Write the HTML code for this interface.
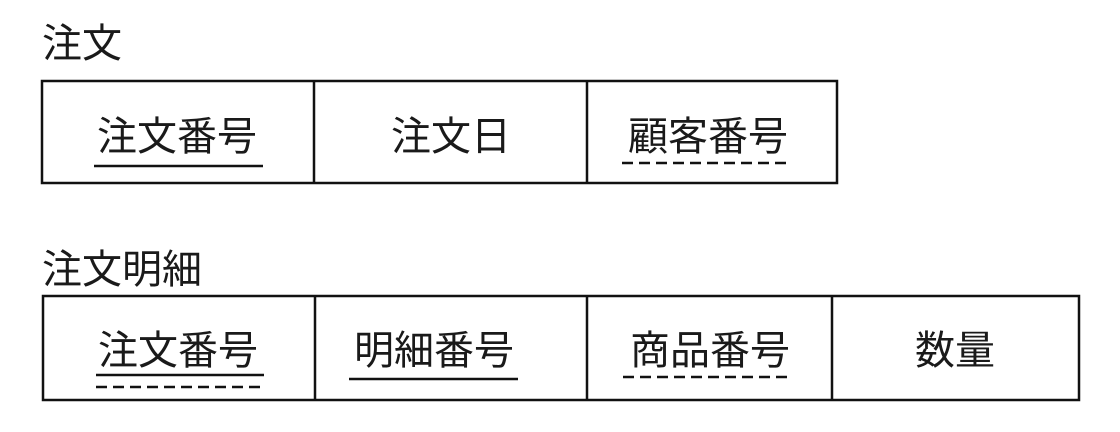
<!DOCTYPE html>
<html><head><meta charset="utf-8"><style>
html,body{margin:0;padding:0;background:#fff;width:1120px;height:432px;overflow:hidden}
svg text{font-family:"Liberation Sans","Noto Sans CJK JP",sans-serif;font-size:40px;fill:#1a1a1a;font-weight:400}
</style></head><body>
<svg width="1120" height="432" viewBox="0 0 1120 432" xmlns="http://www.w3.org/2000/svg">
<g stroke="#111" stroke-width="2.5" fill="none">
<rect x="42" y="81" width="795" height="102"/>
<line x1="314" y1="81" x2="314" y2="183"/>
<line x1="587" y1="81" x2="587" y2="183"/>
<rect x="43" y="296" width="1036" height="104"/>
<line x1="315" y1="296" x2="315" y2="400"/>
<line x1="587" y1="296" x2="587" y2="400"/>
<line x1="832" y1="296" x2="832" y2="400"/>
</g>
<text x="42" y="57">注文</text>
<text x="42" y="283">注文明細</text>
<text x="177" y="150" text-anchor="middle">注文番号</text>
<text x="451" y="150" text-anchor="middle">注文日</text>
<text x="708" y="150" text-anchor="middle">顧客番号</text>
<text x="178" y="364" text-anchor="middle">注文番号</text>
<text x="434" y="364" text-anchor="middle">明細番号</text>
<text x="710" y="364" text-anchor="middle">商品番号</text>
<text x="955" y="364" text-anchor="middle">数量</text>
<g stroke="#111" stroke-width="2.5">
<line x1="94" y1="166" x2="263" y2="166"/>
<line x1="96" y1="375" x2="264" y2="375"/>
<line x1="96" y1="387" x2="264" y2="387" stroke-dasharray="11,6"/>
<line x1="349" y1="379" x2="518" y2="379"/>
<line x1="622" y1="163" x2="791" y2="163" stroke-dasharray="11,6"/>
<line x1="623" y1="377" x2="792" y2="377" stroke-dasharray="11,6"/>
</g>
</svg>
</body></html>
